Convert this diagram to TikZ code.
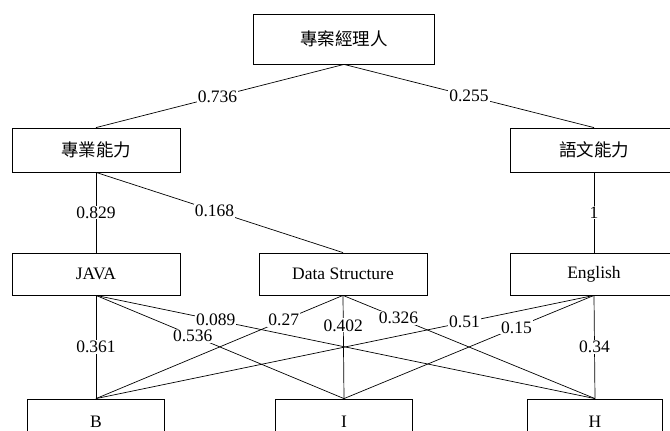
\documentclass[tikz,border=0pt]{standalone}
\usepackage{fontspec}
\setmainfont{Liberation Serif}
\newfontfamily\cjk{Noto Sans CJK TC}
\begin{document}
\begin{tikzpicture}[x=1pt,y=-1pt,
  box/.style={draw,line width=0.8pt,inner sep=0pt,minimum height=#1},
  box/.default=44pt,
  lbl/.style={fill=white,inner sep=1pt},
  every node/.style={font=\fontsize{17.5}{20}\selectfont},
  conn/.style={line width=0.7pt}]
\useasboundingbox (0,0) rectangle (670,431);
\clip (0,0) rectangle (670,431);
% boxes
\node[box=50pt,minimum width=181pt] (root) at (344,39) {\cjk 專案經理人};
\node[box,minimum width=168pt] (pro) at (96,150) {\cjk 專業能力};
\node[box,minimum width=168pt] (lang) at (594,150) {\cjk 語文能力};
\node[box=42pt,minimum width=168pt] (java) at (96,274) {JAVA};
\node[box=42pt,minimum width=168pt] (ds) at (343,274) {Data Structure};
\node[box=42pt,minimum width=168pt] (eng) at (594,274) {English};
\node[box=46pt,minimum width=137pt] (b) at (96,422) {B};
\node[box=46pt,minimum width=137pt] (i) at (344,422) {I};
\node[box=46pt,minimum width=135pt] (h) at (595,422) {H};
% upper connectors
\draw[conn] (root.south) -- node[lbl,pos=.51] (w1) {0.736} (pro.north);
\draw[conn] (root.south) -- node[lbl,pos=.5] (w2) {0.255} (lang.north);
\draw[conn] (pro.south) -- node[lbl,pos=.5] (w3) {0.829} (java.north);
\draw[conn] (pro.south) -- node[lbl,pos=.48] (w4) {0.168} (ds.north);
\draw[conn] (lang.south) -- node[lbl,pos=.5] (w5) {1} (eng.north);
% lower connectors
\draw[conn] (java.south) -- node[lbl,pos=.5] (w6) {0.361} (b.north);
\draw[conn] (java.south) -- node[lbl,pos=.39] (w7) {0.536} (i.north);
\draw[conn] (java.south) -- node[lbl,pos=.24] (w8) {0.089} (h.north);
\draw[conn] (ds.south) -- node[lbl,pos=.24] (w9) {0.27} (b.north);
\draw[conn] (ds.south) -- node[lbl,pos=.29] (w10) {0.402} (i.north);
\draw[conn] (ds.south) -- node[lbl,pos=.22] (w11) {0.326} (h.north);
\draw[conn] (eng.south) -- node[lbl,pos=.26] (w12) {0.51} (b.north);
\draw[conn] (eng.south) -- node[lbl,pos=.31] (w13) {0.15} (i.north);
\draw[conn] (eng.south) -- node[lbl,pos=.5] (w14) {0.34} (h.north);
\end{tikzpicture}
\end{document}
